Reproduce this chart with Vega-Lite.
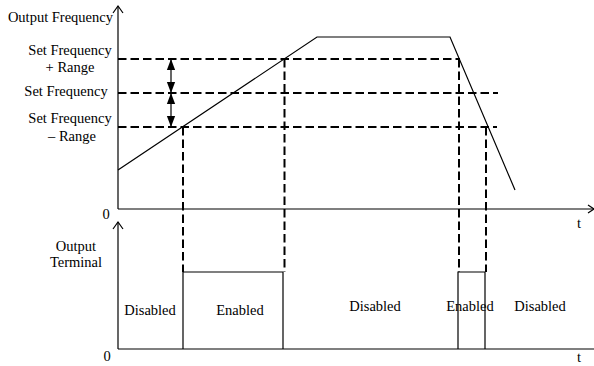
{
  "$schema": "https://vega.github.io/schema/vega-lite/v6.json",
  "width": 594,
  "height": 366,
  "padding": 0,
  "autosize": {"type": "none"},
  "config": {"view": {"stroke": null}, "font": "Liberation Serif"},
  "datasets": {
    "solid": [
      {"id": "yaxis1", "o": 1, "t": 118, "v": 209},
      {"id": "yaxis1", "o": 2, "t": 118, "v": 6},
      {"id": "yarrow1", "o": 1, "t": 113, "v": 13},
      {"id": "yarrow1", "o": 2, "t": 118, "v": 6},
      {"id": "yarrow1", "o": 3, "t": 123, "v": 13},
      {"id": "xaxis1", "o": 1, "t": 118, "v": 209},
      {"id": "xaxis1", "o": 2, "t": 594, "v": 209},
      {"id": "xarrow1", "o": 1, "t": 588, "v": 205},
      {"id": "xarrow1", "o": 2, "t": 594, "v": 209},
      {"id": "xarrow1", "o": 3, "t": 588, "v": 213},
      {"id": "freq", "o": 1, "t": 118, "v": 170},
      {"id": "freq", "o": 2, "t": 317, "v": 37},
      {"id": "freq", "o": 3, "t": 450, "v": 37},
      {"id": "freq", "o": 4, "t": 515, "v": 190},
      {"id": "yaxis2", "o": 1, "t": 118, "v": 349},
      {"id": "yaxis2", "o": 2, "t": 118, "v": 222},
      {"id": "yarrow2", "o": 1, "t": 113, "v": 229},
      {"id": "yarrow2", "o": 2, "t": 118, "v": 222},
      {"id": "yarrow2", "o": 3, "t": 123, "v": 229},
      {"id": "xaxis2", "o": 1, "t": 118, "v": 349},
      {"id": "xaxis2", "o": 2, "t": 594, "v": 349},
      {"id": "pulse1", "o": 1, "t": 183, "v": 349},
      {"id": "pulse1", "o": 2, "t": 183, "v": 272},
      {"id": "pulse1", "o": 3, "t": 283, "v": 272},
      {"id": "pulse1", "o": 4, "t": 283, "v": 349},
      {"id": "pulse2", "o": 1, "t": 458, "v": 349},
      {"id": "pulse2", "o": 2, "t": 458, "v": 272},
      {"id": "pulse2", "o": 3, "t": 485, "v": 272},
      {"id": "pulse2", "o": 4, "t": 485, "v": 349},
      {"id": "shaft1", "o": 1, "t": 171, "v": 60},
      {"id": "shaft1", "o": 2, "t": 171, "v": 126}
    ],
    "dashed": [
      {"t": 118, "v": 59, "t2": 460, "v2": 59},
      {"t": 118, "v": 93, "t2": 498, "v2": 93},
      {"t": 118, "v": 127, "t2": 497, "v2": 127},
      {"t": 183, "v": 127, "t2": 183, "v2": 272},
      {"t": 284.5, "v": 59, "t2": 284.5, "v2": 272},
      {"t": 459, "v": 59, "t2": 459, "v2": 272},
      {"t": 486, "v": 127, "t2": 486, "v2": 272}
    ],
    "heads": [
      {"t": 171, "v": 59, "dir": "up"},
      {"t": 171, "v": 93, "dir": "down"},
      {"t": 171, "v": 93, "dir": "up"},
      {"t": 171, "v": 127, "dir": "down"}
    ],
    "rightText": [
      {"t": 113, "v": 18, "label": "Output Frequency"}
    ],
    "centerText": [
      {"t": 70, "v": 51, "label": "Set Frequency"},
      {"t": 70, "v": 68, "label": "+ Range"},
      {"t": 66, "v": 92, "label": "Set Frequency"},
      {"t": 70, "v": 119, "label": "Set Frequency"},
      {"t": 72, "v": 137, "label": "– Range"},
      {"t": 106, "v": 215, "label": "0"},
      {"t": 579, "v": 224, "label": "t"},
      {"t": 76, "v": 247, "label": "Output"},
      {"t": 76, "v": 263, "label": "Terminal"},
      {"t": 150, "v": 311, "label": "Disabled"},
      {"t": 240, "v": 311, "label": "Enabled"},
      {"t": 375, "v": 307, "label": "Disabled"},
      {"t": 470, "v": 307, "label": "Enabled"},
      {"t": 540, "v": 307, "label": "Disabled"},
      {"t": 107, "v": 357, "label": "0"},
      {"t": 579, "v": 358, "label": "t"}
    ]
  },
  "encoding": {
    "x": {"field": "t", "type": "quantitative", "axis": null, "scale": {"domain": [0, 594], "nice": false, "zero": false}},
    "y": {"field": "v", "type": "quantitative", "axis": null, "scale": {"domain": [0, 366], "nice": false, "zero": false, "reverse": true}}
  },
  "layer": [
    {
      "data": {"name": "dashed"},
      "mark": {"type": "rule", "color": "black", "strokeWidth": 2, "strokeDash": [8.5, 4]},
      "encoding": {
        "x2": {"field": "t2"},
        "y2": {"field": "v2"}
      }
    },
    {
      "data": {"name": "solid"},
      "mark": {"type": "line", "color": "black", "strokeWidth": 1.2},
      "encoding": {
        "detail": {"field": "id"},
        "order": {"field": "o", "type": "quantitative"}
      }
    },
    {
      "data": {"name": "heads"},
      "mark": {"type": "point", "filled": true, "color": "black", "opacity": 1, "size": 121, "strokeWidth": 0},
      "encoding": {
        "shape": {"field": "dir", "type": "nominal", "scale": {"domain": ["up", "down"], "range": ["M0,0L-0.75,2L0.75,2Z", "M0,0L-0.75,-2L0.75,-2Z"]}, "legend": null}
      }
    },
    {
      "data": {"name": "rightText"},
      "mark": {"type": "text", "align": "right", "baseline": "middle", "fontSize": 14.5, "color": "black"},
      "encoding": {"text": {"field": "label"}}
    },
    {
      "data": {"name": "centerText"},
      "mark": {"type": "text", "align": "center", "baseline": "middle", "fontSize": 14.5, "color": "black"},
      "encoding": {"text": {"field": "label"}}
    }
  ]
}
